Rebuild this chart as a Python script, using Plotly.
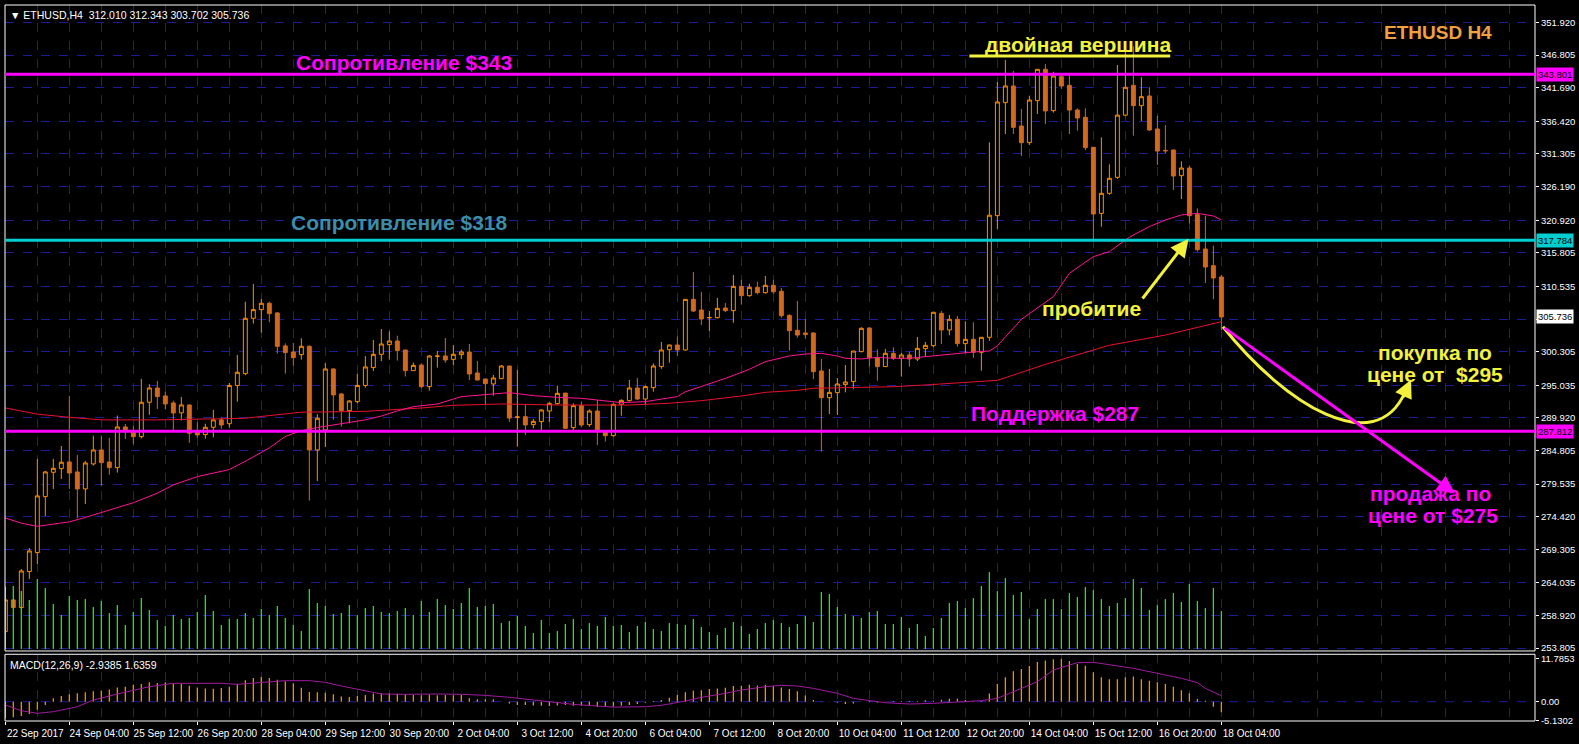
import plotly.graph_objects as go

# ---------------- data ----------------
bars = list(range(153))
time_labels = ["22 Sep 2017", "24 Sep 04:00", "25 Sep 12:00", "26 Sep 20:00", "28 Sep 04:00",
               "29 Sep 12:00", "30 Sep 20:00", "2 Oct 04:00", "3 Oct 12:00", "4 Oct 20:00",
               "6 Oct 04:00", "7 Oct 12:00", "8 Oct 20:00", "10 Oct 04:00", "11 Oct 12:00",
               "12 Oct 20:00", "14 Oct 04:00", "15 Oct 12:00", "16 Oct 20:00", "18 Oct 04:00"]
label_bars = [i * 8 for i in range(len(time_labels))]
minor_bars = [4 + i * 8 for i in range(24)]

opens = [256.39, 261.36, 260.16, 265.8, 268.78, 277.56, 281.38, 281.95, 283.0, 281.43,
         278.77, 282.69, 284.88, 282.99, 282.11, 288.49, 287.8, 286.97, 292.36, 294.6,
         293.35, 292.25, 290.7, 291.94, 287.75, 287.29, 288.44, 289.6, 289.0, 295.0,
         296.85, 305.53, 306.89, 307.88, 306.37, 301.2, 300.25, 299.83, 301.14, 284.88,
         288.02, 297.58, 293.66, 291.05, 292.46, 295.0, 297.8, 299.88, 301.4, 301.97,
         300.56, 297.32, 298.2, 294.81, 299.57, 299.62, 299.09, 299.83, 300.24, 296.95,
         296.0, 295.23, 296.06, 298.05, 290.0, 290.1, 288.85, 289.32, 290.99, 292.14,
         293.8, 288.38, 291.83, 288.85, 290.99, 287.75, 287.12, 292.04, 292.61, 294.6,
         292.87, 294.65, 297.95, 300.61, 301.34, 300.56, 308.5, 306.83, 305.6, 305.63,
         307.14, 306.73, 310.54, 309.08, 310.39, 309.55, 310.7, 309.76, 305.99, 303.64,
         303.23, 303.23, 297.27, 293.08, 293.87, 295.13, 295.6, 300.3, 304.01, 299.36,
         297.95, 300.04, 299.26, 299.78, 299.15, 300.77, 301.24, 306.31, 303.7, 305.37,
         301.56, 302.23, 300.2, 302.55, 321.63, 339.35, 341.97, 335.69, 333.08, 339.67,
         344.58, 338.1, 343.43, 342.07, 338.2, 337.05, 332.35, 321.99, 325.13, 327.64,
         337.4, 342.07, 338.88, 340.4, 335.22, 331.87, 331.93, 327.9, 329.1, 321.79,
         316.4, 313.79, 312.01]
highs = [263.45, 261.5, 266.2, 269.5, 283.47, 281.6, 283.47, 285.5, 293.35, 284.1,
         283.16, 287.13, 287.13, 286.76, 290.27, 288.96, 288.6, 296.02, 295.2, 295.7,
         294.0, 292.6, 293.2, 292.0, 289.2, 289.0, 291.15, 290.0, 295.39, 299.78,
         308.14, 310.9, 308.56, 308.14, 306.5, 301.6, 301.66, 302.4, 301.3, 290.5,
         298.53, 297.7, 293.8, 292.7, 296.8, 299.6, 302.13, 303.85, 303.5, 302.8,
         300.6, 298.6, 298.46, 299.77, 300.4, 302.44, 301.34, 300.6, 301.5, 298.83,
         296.1, 296.64, 298.2, 298.1, 297.42, 292.04, 289.74, 291.25, 292.35, 294.97,
         293.8, 292.2, 292.45, 291.25, 292.72, 287.9, 292.2, 292.82, 295.85, 296.17,
         295.0, 298.46, 301.81, 301.4, 302.65, 308.5, 312.79, 309.65, 306.67, 308.71,
         307.93, 312.32, 311.54, 310.96, 311.27, 312.16, 311.54, 310.28, 306.15, 308.24,
         305.42, 303.3, 299.15, 297.58, 296.17, 298.2, 300.4, 304.12, 304.12, 300.67,
         300.72, 300.98, 300.09, 300.3, 302.6, 301.82, 306.47, 306.68, 306.05, 305.9,
         305.06, 304.9, 302.55, 333.13, 342.59, 346.04, 344.32, 338.36, 340.4, 344.58,
         345.42, 344.2, 343.95, 343.8, 338.46, 338.46, 332.4, 333.9, 329.68, 345.26,
         348.4, 348.2, 343.33, 341.76, 337.31, 335.85, 332.0, 330.15, 329.5, 322.78,
         321.63, 316.93, 312.343]
lows = [256.2, 260.0, 260.0, 264.65, 267.0, 274.53, 278.77, 280.33, 278.77, 274.17,
        276.41, 282.43, 279.24, 281.0, 281.33, 286.6, 285.8, 286.66, 290.4, 291.3,
        291.3, 287.86, 289.5, 286.0, 286.8, 286.66, 286.87, 288.2, 288.38, 292.46,
        296.6, 304.7, 303.28, 304.9, 300.0, 296.85, 298.1, 299.05, 276.94, 280.02,
        285.35, 289.6, 288.54, 289.06, 292.2, 294.66, 297.27, 298.8, 299.05, 298.9,
        296.4, 297.3, 294.55, 294.18, 297.8, 298.57, 298.2, 299.15, 295.85, 295.8,
        292.09, 293.4, 296.0, 289.27, 285.4, 287.23, 288.27, 288.0, 289.27, 292.0,
        288.17, 288.0, 288.5, 288.5, 285.66, 286.2, 286.97, 290.26, 292.5, 292.7,
        292.0, 294.02, 297.6, 298.57, 299.62, 300.45, 306.52, 304.48, 303.54, 305.5,
        306.5, 304.84, 307.67, 308.92, 309.29, 309.39, 309.4, 305.6, 300.45, 302.5,
        302.34, 296.0, 284.62, 290.53, 290.37, 293.92, 294.4, 300.2, 297.95, 295.75,
        297.9, 299.0, 296.38, 297.95, 298.83, 299.5, 301.0, 301.5, 302.86, 301.08,
        300.04, 299.31, 297.32, 302.0, 319.54, 334.44, 334.44, 330.99, 332.71, 337.58,
        336.0, 337.8, 341.5, 334.44, 334.96, 331.9, 317.92, 319.91, 324.9, 327.4,
        337.2, 334.18, 336.48, 334.9, 329.58, 331.4, 325.66, 324.24, 320.43, 316.0,
        311.07, 308.51, 303.702]
closes = [261.36, 260.16, 265.9, 269.04, 277.67, 281.43, 282.0, 282.95, 281.27, 278.77,
          282.84, 284.88, 282.9, 282.11, 288.49, 288.0, 286.97, 292.36, 294.6, 293.25,
          292.1, 290.68, 291.94, 287.5, 287.24, 288.44, 289.6, 288.8, 295.0, 297.06,
          305.53, 306.89, 307.88, 306.26, 301.13, 300.15, 299.36, 301.14, 284.88, 289.85,
          297.58, 293.51, 291.05, 292.56, 295.0, 297.9, 299.88, 301.5, 301.97, 300.46,
          297.32, 298.15, 294.81, 299.62, 299.6, 298.99, 299.88, 300.24, 296.8, 295.85,
          295.28, 296.17, 298.05, 289.89, 290.05, 288.8, 289.37, 291.15, 292.19, 293.76,
          288.27, 291.83, 288.8, 290.99, 287.75, 287.12, 292.04, 292.66, 294.6, 292.87,
          294.81, 298.05, 300.56, 301.34, 300.56, 308.5, 306.67, 305.42, 305.65, 307.09,
          306.73, 310.54, 309.08, 310.39, 309.55, 310.7, 309.7, 305.94, 303.59, 302.91,
          302.97, 297.16, 293.08, 293.92, 295.23, 295.54, 300.4, 303.96, 299.36, 297.95,
          300.04, 299.26, 299.78, 299.15, 300.82, 301.29, 306.47, 303.7, 305.37, 301.56,
          302.23, 300.2, 302.55, 321.7, 339.46, 341.97, 335.48, 333.08, 339.77, 344.58,
          338.05, 343.53, 341.97, 338.2, 336.95, 332.3, 321.89, 325.13, 327.49, 337.4,
          341.76, 338.88, 340.29, 335.07, 331.77, 331.8, 327.85, 329.1, 321.63, 316.3,
          313.58, 311.86, 305.736]

volumes = [617, 630, 580, 490, 700, 610, 450, 340, 530, 490,
           500, 420, 480, 360, 440, 240, 370, 510, 390, 290,
           230, 340, 300, 310, 370, 540, 380, 240, 300, 300,
           360, 310, 400, 340, 430, 310, 240, 180, 600, 460,
           430, 350, 360, 440, 340, 410, 430, 370, 360, 380,
           410, 340, 480, 370, 500, 440, 400, 460, 610, 420,
           430, 450, 260, 280, 330, 230, 160, 290, 160, 180,
           250, 300, 200, 260, 230, 320, 230, 240, 170, 230,
           270, 200, 180, 260, 250, 240, 300, 220, 170, 140,
           210, 270, 230, 150, 200, 260, 290, 260, 220, 250,
           330, 270, 570, 550, 420, 350, 330, 310, 370, 380,
           250, 250, 320, 210, 250, 130, 210, 310, 460, 480,
           410, 510, 630, 770, 580, 710, 540, 570, 300, 400,
           500, 500, 400, 560, 520, 620, 590, 500, 430, 460,
           510, 700, 610, 390, 440, 500, 560, 470, 650, 480,
           410, 610, 380]

ma_slow_idx = [0, 4, 8, 12, 19, 30, 33, 37, 45, 49, 52, 56, 62, 69, 74, 78, 83, 87, 92, 95,
               99, 101, 107, 111, 115, 118, 121, 123, 124, 130, 138, 145, 152]
ma_slow = [291.47, 290.5, 290.0, 289.6, 289.6, 289.85, 290.27, 290.8, 290.94, 291.2,
           291.46, 291.88, 292.09, 291.93, 291.88, 291.93, 292.2, 292.61, 293.34, 293.92,
           294.23, 294.55, 294.7, 294.8, 295.07, 295.3, 295.6, 295.75, 295.8, 298.3,
           301.3, 302.9, 305.0]

ma_fast_idx = [0, 2, 4, 8, 10, 13, 16, 19, 21, 24, 28, 30, 33, 35, 37, 39, 41, 43, 45, 47,
               49, 51, 54, 57, 60, 63, 66, 69, 72, 75, 77, 80, 84, 85, 88, 90, 93, 95, 98, 100,
               102, 104, 105, 107, 109, 111, 113, 115, 116, 118, 120, 121, 123, 124, 125, 127,
               131, 133, 136, 138, 140, 141, 143, 145, 147, 149, 151, 152]
ma_fast = [274.2, 273.4, 272.9, 273.6, 274.3, 275.4, 276.6, 278.1, 279.4, 280.7,
           281.8, 283.1, 285.2, 287.0, 287.9, 288.4, 288.8, 289.1, 289.6, 290.2,
           291.0, 291.67, 292.09, 293.24, 293.6, 293.87, 293.4, 293.13, 292.98, 292.56,
           292.3, 292.46, 293.24, 294.0, 295.2, 296.1, 297.53, 298.73, 299.62, 299.93,
           300.04, 299.6, 299.26, 299.15, 299.41, 299.26, 299.26, 299.52, 299.62, 299.88,
           300.14, 300.25, 300.4, 301.2, 302.6, 305.37, 308.93, 312.59, 315.2, 315.99,
           317.82, 318.6, 319.91, 320.95, 321.74, 322.0, 321.58, 320.95]

macd_hist = [-4.6, -4.3, -3.95, -3.37, -2.25, -0.94, 0.94, 1.59, 2.06, 2.34,
             2.58, 2.9, 3.0, 3.37, 3.94, 4.12, 4.69, 4.87, 5.34, 5.15,
             5.34, 5.06, 4.87, 4.4, 3.94, 3.65, 3.56, 3.75, 4.12, 4.87,
             5.9, 6.56, 6.84, 6.56, 6.09, 5.62, 5.06, 3.84, 2.67, 2.58,
             2.48, 2.06, 1.41, 1.31, 1.59, 1.87, 2.25, 2.34, 2.34, 2.16,
             1.97, 1.87, 1.78, 1.97, 1.78, 1.87, 1.78, 1.87, 0.94, 0.66,
             0.66, 0.66, 0.05, -0.47, -0.94, -0.94, -1.03, -1.12, -1.22, -1.03,
             -0.94, -1.12, -1.12, -1.22, -1.4, -1.4, -1.4, -1.12, -0.94, -0.66,
             -0.28, 0.19, 0.47, 1.12, 1.87, 2.58, 3.0, 3.19, 3.47, 3.65,
             3.84, 4.31, 4.4, 4.69, 4.5, 4.69, 4.31, 3.94, 3.47, 2.9,
             1.69, 0.47, 0.03, 0.05, -0.28, -0.66, -0.47, -0.09, 0.19, -0.19,
             0.03, 0.19, 0.19, 0.19, 0.19, 0.37, 0.28, 0.56, 0.84, 0.84,
             0.47, 0.19, 0.19, 2.25, 4.87, 6.75, 8.43, 9.0, 9.84, 10.96,
             11.34, 11.71, 11.79, 11.24, 10.4, 9.93, 8.15, 6.75, 6.18, 6.18,
             6.75, 6.93, 6.18, 5.81, 5.34, 4.87, 4.12, 3.19, 2.34, 0.75,
             0.28, -1.41, -2.94]

sig_idx = [0, 2, 4, 6, 9, 11, 14, 16, 18, 21, 23, 27, 29, 32, 35, 38, 40, 42, 45, 47,
           50, 52, 54, 57, 60, 63, 66, 69, 71, 74, 76, 80, 82, 85, 87, 90, 92, 95, 97, 99,
           101, 104, 106, 110, 113, 116, 119, 122, 124, 126, 129, 131, 134, 136, 138, 141,
           144, 147, 149, 150, 152]
sig_val = [-0.92, -2.49, -3.22, -2.76, -1.38, 0.46, 2.12, 3.22, 4.14, 5.06,
           5.06, 5.06, 4.79, 5.34, 5.8, 5.8, 5.34, 4.33, 3.04, 2.12,
           2.03, 2.12, 2.12, 2.03, 1.75, 1.2, 0.46, -0.09, -0.74, -1.2,
           -1.5, -1.38, -1.01, 0.18, 1.2, 2.3, 3.22, 4.14, 4.51, 4.33,
           3.68, 2.3, 0.92, -0.28, -0.64, -0.46, -0.09, 0.28, 0.92, 2.76,
           5.52, 8.75, 10.77, 10.87, 10.13, 9.21, 7.83, 6.45, 5.25, 3.68,
           1.64]

price_ticks = [351.92, 346.805, 341.69, 336.42, 331.305, 326.19, 320.92, 315.805, 310.535, 305.42,
               300.305, 295.035, 289.92, 284.805, 279.535, 274.42, 269.305, 264.035, 258.92, 253.805]
macd_ticks = [11.7853, 0.0, -5.1302]
macd_tick_text = ["11.7853", "0.00", "-5.1302"]

resist_high = 343.801
resist_mid = 317.784
support = 287.812
last_price = 305.736

# ---------------- styles ----------------
GRID = "#1c1c9a"
FONT = "Liberation Sans, Arial, DejaVu Sans"
YEL = "#F2F23C"
MAG = "#FF00FF"
CYAN = "#00CED1"
TICKSIZE = 9.5

fig = go.Figure()

fig.add_trace(go.Candlestick(
    x=bars, open=opens, high=highs, low=lows, close=closes,
    xaxis="x", yaxis="y",
    increasing=dict(line=dict(color="#FF8C00", width=1), fillcolor="#000000"),
    decreasing=dict(line=dict(color="#D2691E", width=1), fillcolor="#D2691E"),
    whiskerwidth=0, hoverinfo="skip", name="ETHUSD"))

fig.add_trace(go.Scatter(x=ma_slow_idx, y=ma_slow, mode="lines", xaxis="x", yaxis="y",
                         line=dict(color="#E8102C", width=1), hoverinfo="skip"))
fig.add_trace(go.Scatter(x=ma_fast_idx, y=ma_fast, mode="lines", xaxis="x", yaxis="y",
                         line=dict(color="#FF1493", width=1), hoverinfo="skip"))

fig.add_trace(go.Bar(x=bars, y=volumes, xaxis="x", yaxis="y3", width=0.16,
                     marker=dict(color="#22E822", line=dict(width=0)), hoverinfo="skip"))

fig.add_trace(go.Bar(x=bars, y=macd_hist, xaxis="x2", yaxis="y2", width=0.16,
                     marker=dict(color="#FF8C00", line=dict(width=0)), hoverinfo="skip"))
fig.add_trace(go.Scatter(x=sig_idx, y=sig_val, mode="lines", xaxis="x2", yaxis="y2",
                         line=dict(color="#A01AA0", width=1), hoverinfo="skip"))

xr = [-0.04, 191.2]
common_x = dict(range=xr, showgrid=True, gridcolor=GRID, griddash="dash", gridwidth=1,
                zeroline=False, showline=False, tickmode="array", tickvals=label_bars,
                minor=dict(tickmode="array", tickvals=minor_bars, showgrid=True,
                           gridcolor=GRID, griddash="dash", ticks=""),
                rangeslider=dict(visible=False), automargin=False)

fig.update_layout(
    width=1579, height=744,
    paper_bgcolor="#000000", plot_bgcolor="#000000",
    margin=dict(l=5, r=44, t=5, b=23, autoexpand=False),
    showlegend=False, hovermode=False,
    xaxis=dict(**common_x, anchor="y", showticklabels=False, ticks=""),
    xaxis2=dict(**common_x, anchor="y2", matches="x", ticktext=time_labels,
                showticklabels=True, ticks="outside", ticklen=3, tickcolor="#FFFFFF",
                tickangle=0,
                tickfont=dict(family=FONT, size=10, color="#FFFFFF"), ticklabelshift=30),
    yaxis=dict(domain=[0.0978, 1.0], range=[253.35, 354.67], side="right", anchor="x",
               tickmode="array", tickvals=price_ticks,
               ticktext=["" if abs(v - 305.42) < 1e-6 else f"{v:.3f}" for v in price_ticks],
               showgrid=True, gridcolor=GRID, griddash="dash", zeroline=False,
               ticks="outside", ticklen=3, tickcolor="#FFFFFF", automargin=False,
               tickfont=dict(family=FONT, size=TICKSIZE, color="#FFFFFF")),
    yaxis3=dict(overlaying="y", range=[-20, 6450], visible=False, anchor="x"),
    yaxis2=dict(domain=[0.0, 0.0932], range=[-5.33, 13.09], side="right", anchor="x2",
                tickmode="array", tickvals=macd_ticks, ticktext=macd_tick_text,
                showgrid=False, zeroline=False, automargin=False,
                ticks="outside", ticklen=3, tickcolor="#FFFFFF",
                tickfont=dict(family=FONT, size=TICKSIZE, color="#FFFFFF")),
)

shapes = []
# panel frames
shapes.append(dict(type="rect", xref="x domain", yref="y domain", x0=0, x1=1, y0=0, y1=1,
                   line=dict(color="#FFFFFF", width=1), layer="above"))
shapes.append(dict(type="rect", xref="x2 domain", yref="y2 domain", x0=0, x1=1, y0=0, y1=1,
                   line=dict(color="#FFFFFF", width=1), layer="above"))
shapes.append(dict(type="line", xref="x2 domain", yref="y2", x0=0, x1=1, y0=0, y1=0,
                   line=dict(color=GRID, width=1, dash="dash"), layer="below"))
# levels
for lvl, col in [(resist_high, MAG), (resist_mid, CYAN), (support, MAG)]:
    shapes.append(dict(type="line", xref="x domain", yref="y", x0=0, x1=1, y0=lvl, y1=lvl,
                       line=dict(color=col, width=3), layer="above"))
# double top underline
shapes.append(dict(type="line", xref="x", yref="y", x0=120.5, x1=145.6, y0=346.67, y1=346.67,
                   line=dict(color=YEL, width=3), layer="above"))
# yellow buy curve
shapes.append(dict(type="path", xref="x", yref="y",
                   path="M 152.2,304.2 C 159.96,291.93 171.2,283.31 174.97,293.97",
                   line=dict(color=YEL, width=3), layer="above"))
fig.update_layout(shapes=shapes)

ann = []
BOLD = "Liberation Sans, Arial"


def txt(x, y, s, color, size):
    ann.append(dict(x=x, y=y, xref="x", yref="y", text=f"<b>{s}</b>", showarrow=False,
                    font=dict(family=BOLD, size=size, color=color), xanchor="center", yanchor="middle"))


txt(49.8, 345.6, "Сопротивление $343", MAG, 21)
txt(49.3, 320.6, "Сопротивление $318", "#3C8DAA", 21)
txt(131.2, 290.6, "Поддержка $287", MAG, 21)
txt(134.1, 348.4, "двойная вершина", YEL, 21)
txt(179.1, 350.4, "ETHUSD H4", "#F0A040", 19)
txt(135.8, 307.0, "пробитие", YEL, 21)
txt(178.7, 300.17, "покупка по", YEL, 21)
txt(178.7, 296.7, "цене от  $295", YEL, 21)
txt(178.1, 278.07, "продажа по", MAG, 21)
txt(178.5, 274.59, "цене от $275", MAG, 21)

# arrows
for (hx, hy, tx, ty, col) in [(147.9, 318.0, 142.0, 308.4, YEL),
                              (181.2, 278.05, 152.2, 304.2, MAG),
                              (175.7, 295.9, 174.6, 292.9, YEL)]:
    ann.append(dict(x=hx, y=hy, ax=tx, ay=ty, xref="x", yref="y", axref="x", ayref="y",
                    text="", showarrow=True, arrowhead=2, arrowsize=1.2, arrowwidth=3,
                    arrowcolor=col, standoff=0))

# price boxes on the right axis
for val, bg in [(resist_high, MAG), (resist_mid, CYAN), (support, MAG), (last_price, "#FFFFFF")]:
    ann.append(dict(x=1.0, y=val, xref="paper", yref="y", text=f"{val:.3f}", showarrow=False,
                    xanchor="left", yanchor="middle", xshift=1,
                    font=dict(family=FONT, size=TICKSIZE, color="#000000"), bgcolor=bg, borderpad=1))

# header texts
ann.append(dict(x=0, y=1, xref="paper", yref="paper", xanchor="left", yanchor="top",
                xshift=3, yshift=-2, showarrow=False,
                text="▼ ETHUSD,H4  312.010 312.343 303.702 305.736",
                font=dict(family=FONT, size=10.5, color="#FFFFFF")))
ann.append(dict(x=0, y=1, xref="x2 domain", yref="y2 domain", xanchor="left", yanchor="top",
                xshift=3, yshift=-3, showarrow=False,
                text="MACD(12,26,9) -2.9385 1.6359",
                font=dict(family=FONT, size=10.5, color="#FFFFFF")))

fig.update_layout(annotations=ann)

fig.write_html("out.html", config={"displayModeBar": False, "staticPlot": True},
               post_script="document.body.style.margin='0';document.body.style.overflow='hidden';"
                           "document.body.style.background='#000';")
